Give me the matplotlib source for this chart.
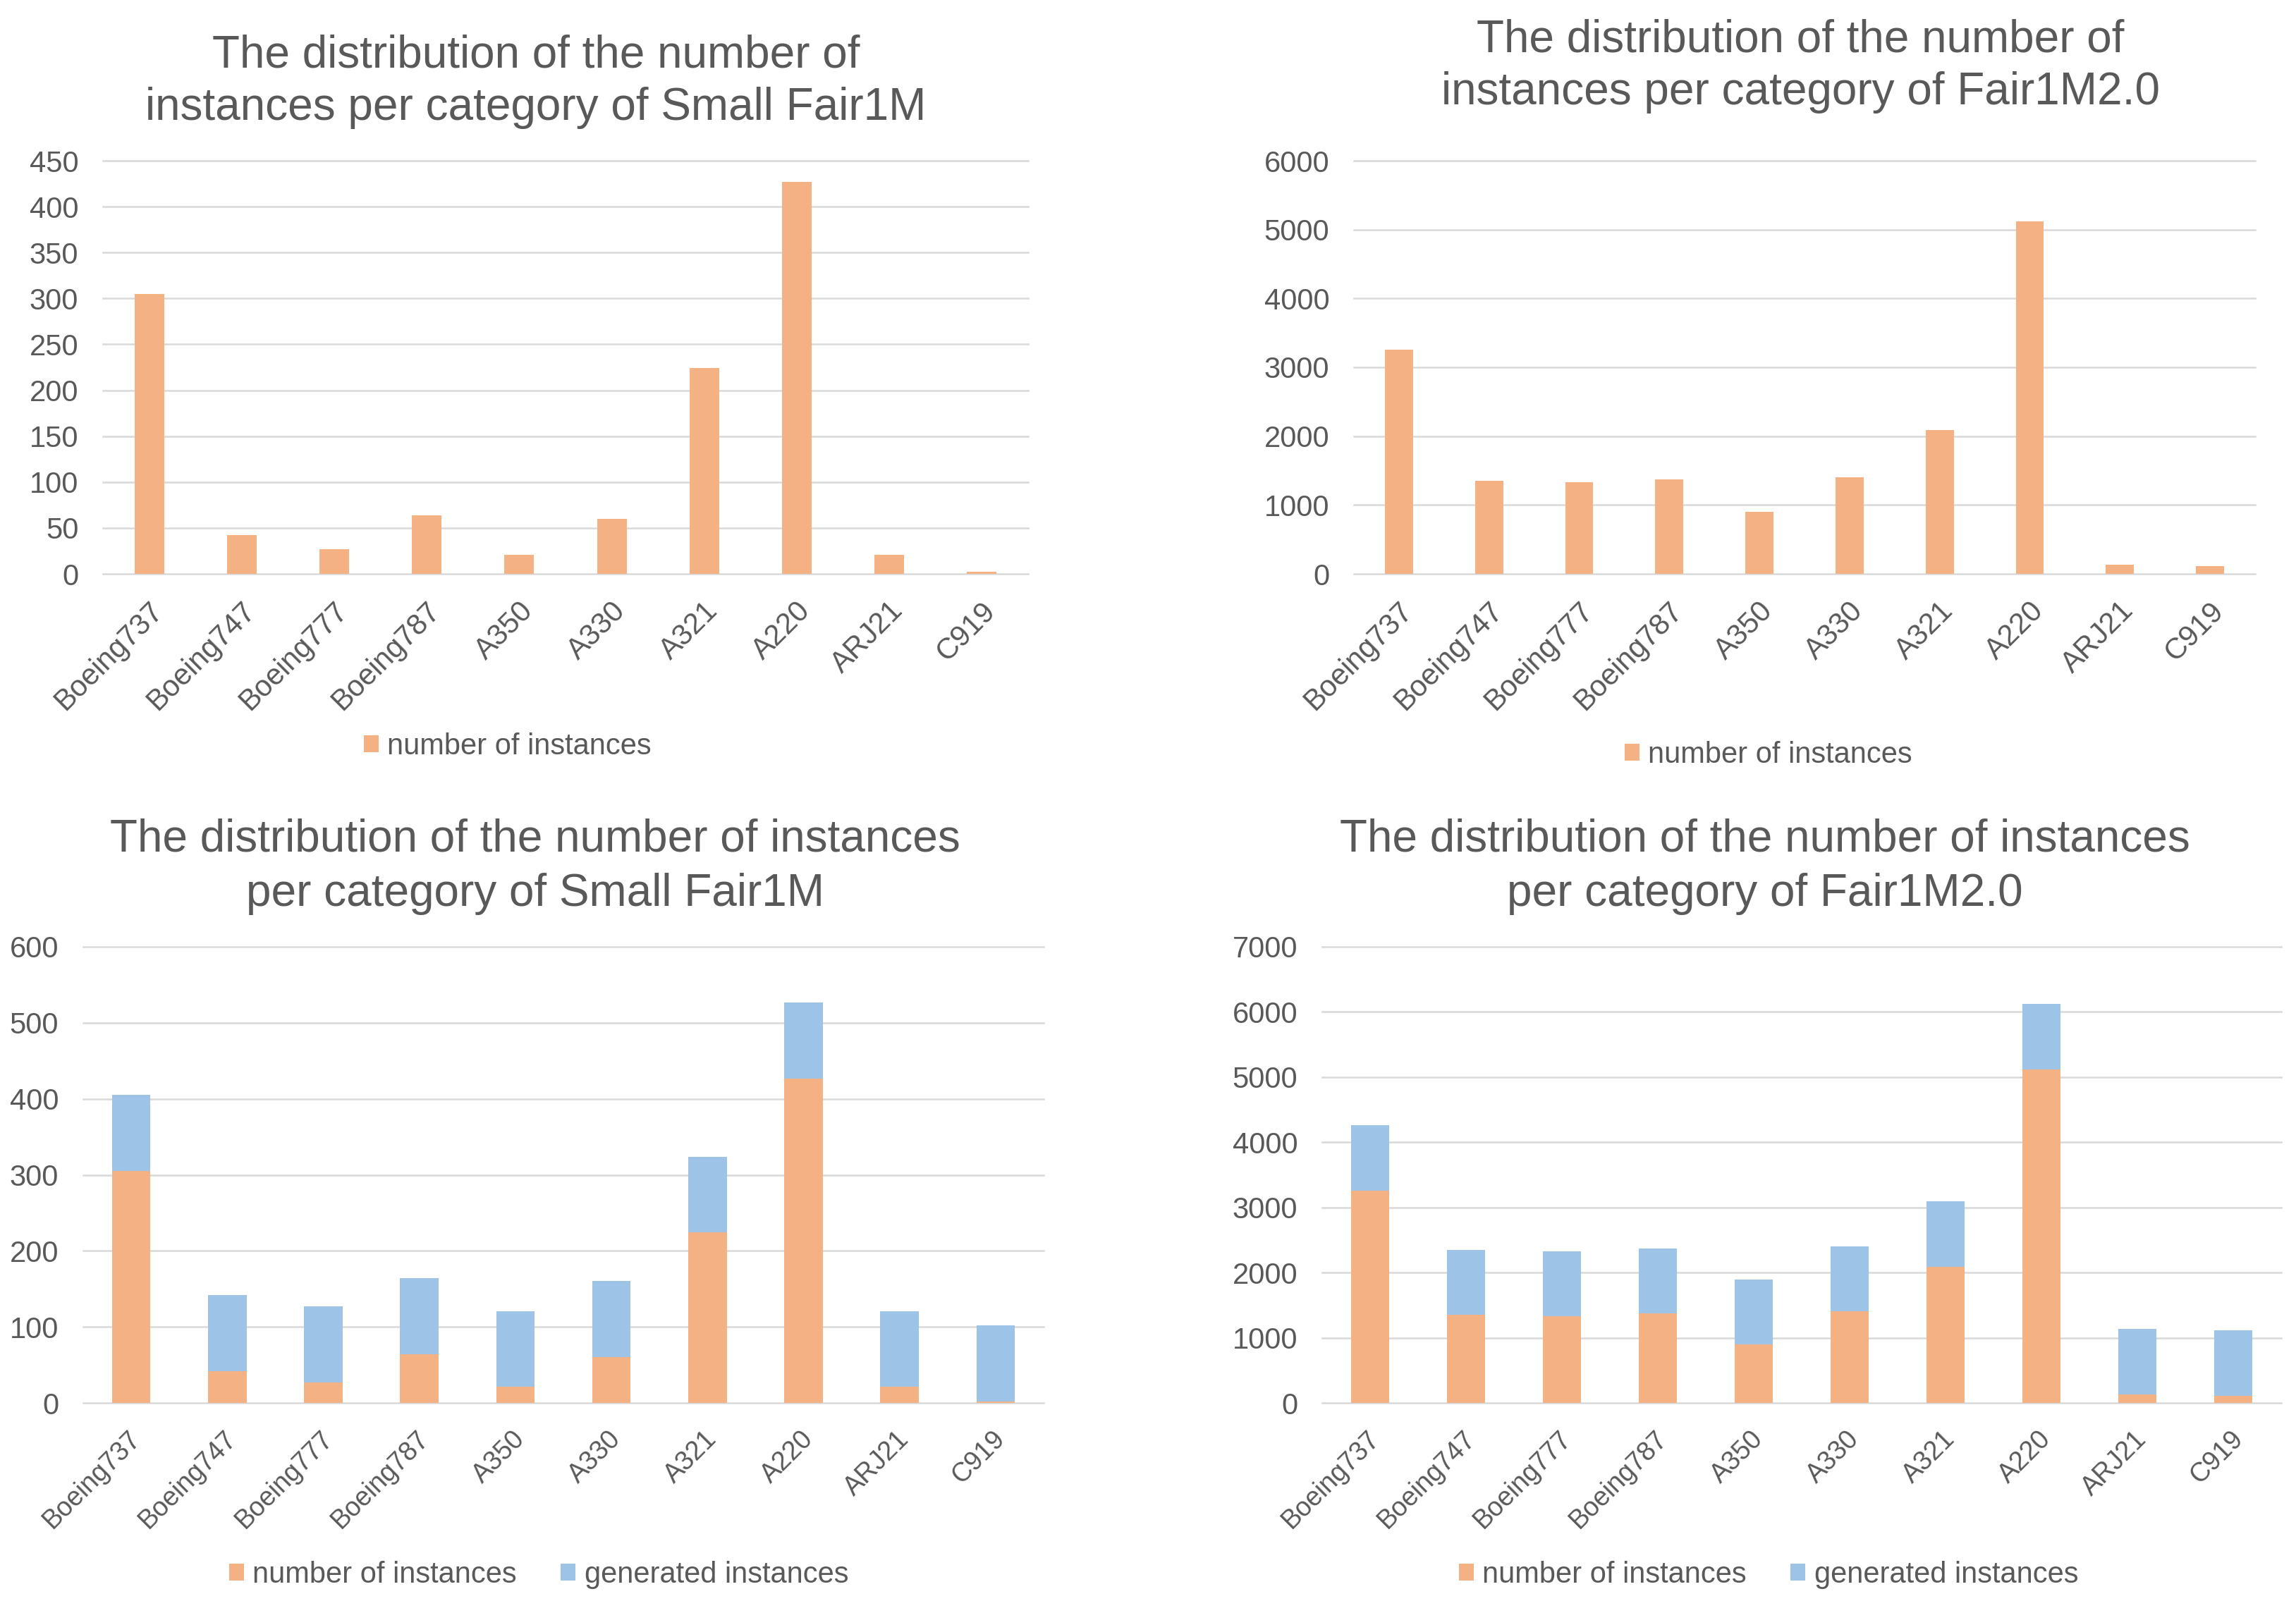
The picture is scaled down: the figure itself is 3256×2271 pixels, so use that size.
import matplotlib
matplotlib.use('Agg')
import matplotlib.pyplot as plt
import matplotlib.transforms as mtransforms
import numpy as np

plt.rcParams['font.family'] = ['Liberation Sans', 'DejaVu Sans']

categories = ['Boeing737', 'Boeing747', 'Boeing777', 'Boeing787', 'A350',
              'A330', 'A321', 'A220', 'ARJ21', 'C919']
small_instances = [305, 42, 27, 64, 21, 60, 224, 427, 21, 2]
small_generated = [100, 100, 100, 100, 100, 100, 100, 100, 100, 100]
fair2_instances = [3260, 1350, 1326, 1370, 898, 1403, 2090, 5122, 134, 110]
fair2_generated = [1000, 1000, 1000, 1000, 1000, 1000, 1000, 1000, 1000, 1000]
series_labels = ['number of instances', 'generated instances']

ORANGE = '#F4B183'
BLUE = '#9DC3E6'
TEXT = '#595959'
GRID = '#D9D9D9'

W, H = 3256, 2271
fig = plt.figure(figsize=(W / 100, H / 100), dpi=100)


def panel(rect, series, colors, labels, ymax, ystep, width, title_lines,
          title_x, title_bases, legend_xy, xtick_size, dx):
    l, r, t, b = rect
    ax = fig.add_axes([l / W, 1 - b / H, (r - l) / W, (b - t) / H])
    x = np.arange(len(categories))
    bottom = np.zeros(len(categories))
    for vals, c, lab in zip(series, colors, labels):
        ax.bar(x, vals, width, bottom=bottom, color=c, label=lab, zorder=3,
               linewidth=0)
        bottom = bottom + np.array(vals, dtype=float)
    ax.set_xlim(-0.5, len(categories) - 0.5)
    ax.set_ylim(0, ymax)
    ax.set_yticks(np.arange(0, ymax + 1, ystep))
    ax.yaxis.grid(True, color=GRID, linewidth=1.8, zorder=0, clip_on=False)
    ax.set_axisbelow(True)
    for s in ax.spines.values():
        s.set_visible(False)
    ax.tick_params(axis='both', length=0, labelcolor=TEXT)
    ax.tick_params(axis='y', labelsize=30, pad=25)
    ax.set_xticks(x)
    ax.set_xticklabels(categories, rotation=45, ha='right',
                       va='center_baseline', rotation_mode='anchor',
                       fontsize=xtick_size, color=TEXT)
    ax.tick_params(axis='x', pad=31)
    offset = mtransforms.ScaledTranslation(dx / 100, 0, fig.dpi_scale_trans)
    for lbl in ax.get_xticklabels():
        lbl.set_transform(lbl.get_transform() + offset)
    lx, ly = legend_xy
    ax.legend(loc='center', bbox_to_anchor=(lx / W, 1 - ly / H),
              bbox_transform=fig.transFigure, ncol=len(series), frameon=False,
              fontsize=30, handlelength=0.5, handleheight=0.5,
              handletextpad=0.3, columnspacing=1.5, labelcolor=TEXT,
              borderpad=0, borderaxespad=0)
    for line, yb in zip(title_lines, title_bases):
        fig.text(title_x / W, 1 - yb / H, line, ha='center', va='baseline',
                 fontsize=46, color=TEXT)
    return ax


panel((146, 1458, 228, 814), [small_instances], [ORANGE], series_labels[:1],
      450, 50, 0.32,
      ['The distribution of the number of',
       'instances per category of Small Fair1M'],
      760, (95, 170), (720, 1059), 30, 10)

panel((1920, 3198, 228, 814), [fair2_instances], [ORANGE], series_labels[:1],
      6000, 1000, 0.31,
      ['The distribution of the number of',
       'instances per category of Fair1M2.0'],
      2553, (73, 148), (2508, 1071), 30, 10)

panel((118, 1480, 1343, 1990), [small_instances, small_generated],
      [ORANGE, BLUE], series_labels, 600, 100, 0.40,
      ['The distribution of the number of instances',
       'per category of Small Fair1M'],
      759, (1208, 1285), (764, 2234), 27, 5)

panel((1875, 3235, 1343, 1990), [fair2_instances, fair2_generated],
      [ORANGE, BLUE], series_labels, 7000, 1000, 0.39,
      ['The distribution of the number of instances',
       'per category of Fair1M2.0'],
      2503, (1208, 1285), (2508, 2234), 27, 5)

fig.savefig('out.png', dpi=100, facecolor='white')
